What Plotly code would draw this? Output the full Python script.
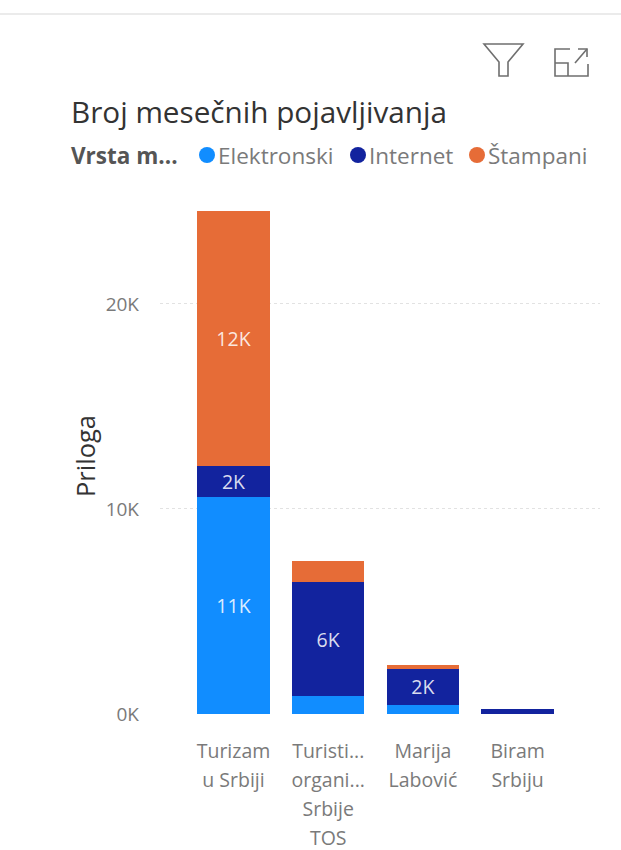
import plotly.graph_objects as go

WIDTH, HEIGHT = 621, 850

categories = ["Turizam<br>u Srbiji", "Turisti...<br>organi...<br>Srbije<br>TOS", "Marija<br>Labović", "Biram<br>Srbiju"]
elektronski = [10600, 880, 440, 0]
internet = [1520, 5550, 1760, 250]
stampani = [12400, 1020, 190, 0]
series_names = ["Elektronski", "Internet", "Štampani"]
series_colors = ["#118DFF", "#12239E", "#E66C37"]
y_ticks = [0, 10000, 20000]
y_tick_labels = ["0K", "10K", "20K"]

FONT = "Open Sans"
GRAY = "#7a7a7a"
DARK = "#333333"


def px(x):
    return x / WIDTH


def py(y):
    return 1 - y / HEIGHT


def path(points, close=False):
    body = " ".join(("M" if i == 0 else "L") + f"{px(x):.5f},{py(y):.5f}" for i, (x, y) in enumerate(points))
    return body + (" Z" if close else "")


def line_shape(points, close=False, color="#6f6f6f", width=1.6):
    return dict(type="path", xref="paper", yref="paper", path=path(points, close),
                line=dict(color=color, width=width))


def short_label(value):
    # Segments too thin to hold text stay unlabelled
    return f"{round(value / 1000)}K" if value >= 1500 else ""


fig = go.Figure()
for name, color, values in zip(series_names, series_colors, [elektronski, internet, stampani]):
    fig.add_bar(
        x=list(range(len(categories))), y=values, name=name, marker=dict(color=color, line_width=0),
        text=[short_label(v) for v in values], textposition="inside", insidetextanchor="middle",
        textangle=0, constraintext="none", cliponaxis=False,
        textfont=dict(family=FONT, size=19.5, color="rgba(255,255,255,0.85)"),
    )

shapes = [
    # Header rule
    dict(type="line", xref="paper", yref="paper", x0=0, x1=1, y0=py(14), y1=py(14),
         line=dict(color="#ebebeb", width=2)),
    # Filter icon
    line_shape([(484, 44), (523, 44), (508, 62), (508, 76), (499, 76), (499, 62)], close=True),
    # Expand icon
    line_shape([(570, 49), (555, 49), (555, 76), (588, 76), (588, 64)]),
    line_shape([(555, 63), (568, 63), (568, 76)]),
    line_shape([(575, 63), (587, 49)]),
    line_shape([(578, 49), (587, 49), (587, 57)]),
]

# Legend markers
for cx, color in zip([207, 358, 477], series_colors):
    shapes.append(dict(type="circle", xref="paper", yref="paper", x0=px(cx - 8), x1=px(cx + 8),
                       y0=py(163), y1=py(147), fillcolor=color, line_width=0))


def text_note(x, y, text, size, color, anchor="left", angle=0):
    return dict(xref="paper", yref="paper", x=px(x), y=py(y), text=text, showarrow=False,
                xanchor=anchor, yanchor="middle", textangle=angle,
                font=dict(family=FONT, size=size, color=color))


annotations = [
    text_note(69, 111, "Broj mesečnih pojavljivanja", 29.7, DARK),
    text_note(69, 155, "<b>Vrsta m...</b>", 22.5, "#555555"),
    text_note(216, 155, series_names[0], 22.5, GRAY),
    text_note(367, 155, series_names[1], 22.5, GRAY),
    text_note(486, 155, series_names[2], 22.5, GRAY),
    text_note(85, 456, "Priloga", 25.5, DARK, anchor="center", angle=-90),
]

fig.update_layout(
    width=WIDTH, height=HEIGHT, autosize=False, margin=dict(l=0, r=0, t=0, b=0),
    paper_bgcolor="white", plot_bgcolor="white", barmode="stack", bargap=0.234,
    showlegend=False, shapes=shapes, annotations=annotations,
    font=dict(family=FONT),
    xaxis=dict(
        domain=[px(160), px(600)], range=[-0.776, 3.87], tickmode="array",
        tickvals=list(range(len(categories))),
        # The outer font size sets the line spacing; the span sets the glyph size
        ticktext=["<br>".join(f'<span style="font-size:19.5px">{part}</span>' for part in c.split("<br>"))
                  for c in categories],
        tickfont=dict(family=FONT, size=22.5, color=GRAY), ticks="", showgrid=False,
        zeroline=False, showline=False, ticklabelstandoff=20, automargin=False,
    ),
    yaxis=dict(
        domain=[py(714), py(200)], range=[0, 25070], tickmode="array", tickvals=y_ticks,
        ticktext=y_tick_labels, tickfont=dict(family=FONT, size=19, color=GRAY),
        showgrid=True, gridcolor="#e2e2e2", griddash="dot", gridwidth=1, zeroline=False,
        showline=False, ticks="", ticklabelstandoff=20, automargin=False,
    ),
)

fig.write_html("out.html")
